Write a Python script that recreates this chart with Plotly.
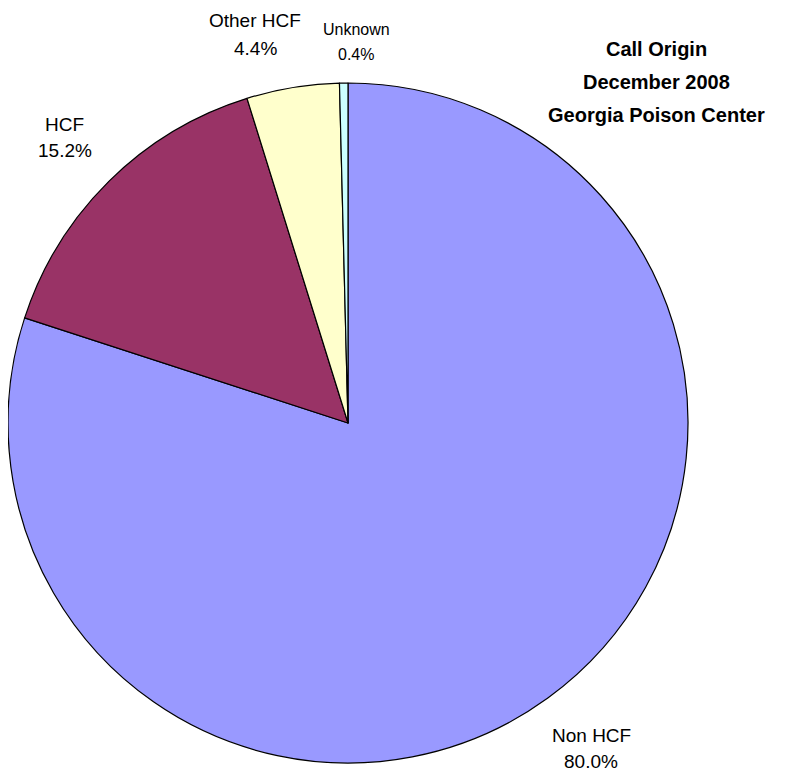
import plotly.graph_objects as go

categories = ["Non HCF", "HCF", "Other HCF", "Unknown"]
values = [80.0, 15.2, 4.4, 0.4]
colors = ["#9999FF", "#993366", "#FFFFCC", "#CCFFFF"]
title_lines = ["Call Origin", "December 2008", "Georgia Poison Center"]

W, H = 788, 774
OFF = 8  # page body margin
cx, cy, r = 348 - OFF, 423 - OFF, 340  # figure pixel coords

fig = go.Figure(go.Pie(
    labels=categories, values=values, sort=False, direction="clockwise",
    rotation=0, textinfo="none", hoverinfo="label+percent",
    marker=dict(colors=colors, line=dict(color="black", width=1.2)),
    domain=dict(x=[max(0, (cx - r) / W), (cx + r) / W],
                y=[(H - cy - r) / H, (H - cy + r) / H]),
    showlegend=False,
))

def px(x, y):
    return (x - OFF) / W, 1 - (y - OFF) / H

FONT = "Liberation Sans, Arial"
# label layout: (center x, y of name line, y of percent line, font size) in page pixels
label_pos = [(591, 735, 761, 19), (65, 124, 151, 19), (255, 21, 48, 19), (356, 29, 54, 16)]
for cat, val, (x, y1, y2, fs) in zip(categories, values, label_pos):
    for txt, yy in ((cat, y1), (f"{val:.1f}%", y2)):
        ax, ay = px(x, yy)
        fig.add_annotation(x=ax, y=ay, xref="paper", yref="paper", text=txt,
                           showarrow=False, xanchor="center", yanchor="middle",
                           font=dict(family=FONT, size=fs, color="black"))

for i, line in enumerate(title_lines):
    ax, ay = px(656, 49 + i * 33)
    fig.add_annotation(x=ax, y=ay, xref="paper", yref="paper",
                       text=f"<b>{line}</b>", showarrow=False, xanchor="center", yanchor="middle",
                       font=dict(family=FONT, size=20, color="black"))

fig.update_layout(width=W, height=H, margin=dict(l=0, r=0, t=0, b=0),
                  paper_bgcolor="white", plot_bgcolor="white")
fig.write_html("out.html")
